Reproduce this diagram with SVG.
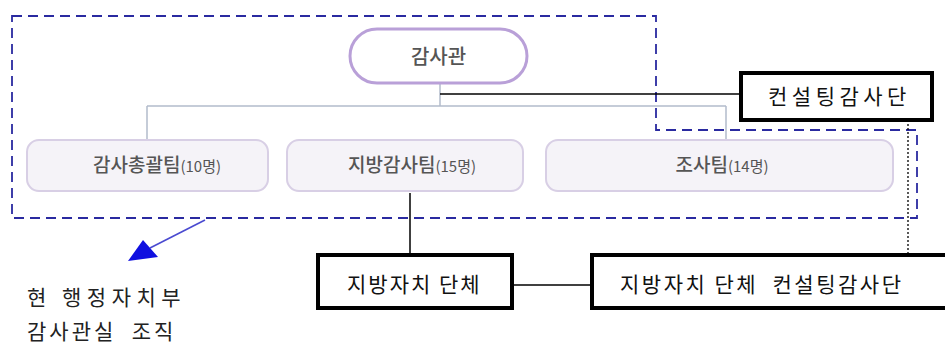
<svg xmlns="http://www.w3.org/2000/svg" width="945" height="344" viewBox="0 0 945 344">
<defs>
<style>
.kr{font-family:"Noto Sans CJK KR","Noto Sans",sans-serif;}
.team{fill:#f5f3f8;stroke:#d8cfe5;stroke-width:2;}
.tt{font-size:19px;fill:#555;font-weight:500;}
.ts{font-size:15px;fill:#555;}
.bx{fill:#fff;stroke:#000;stroke-width:4;}
.bt{font-size:21px;fill:#111;}
.gl{stroke:#b3bccb;stroke-width:1.5;fill:none;}
.bl{stroke:#000;stroke-width:1.5;fill:none;}
</style>
</defs>
<rect width="945" height="344" fill="#fff"/>
<g id="scope">
<path d="M12,16 H656 V130 H917 V218 H12 Z" fill="none" stroke="#2a2aa0" stroke-width="1.8" stroke-dasharray="10,6"/>
</g>
<g id="connectors">
<path class="gl" d="M440,83 V106 M147,106 H726 M147,106 V140 M726,106 V140"/>
<path class="bl" d="M440,94 H740"/>
<path class="bl" d="M410,193 V253"/>
<path class="bl" d="M513,285 H590"/>
<path d="M908,124 V253" stroke="#000" stroke-width="1.3" stroke-dasharray="2,2" fill="none"/>
<line x1="205" y1="220" x2="150" y2="248" stroke="#4a4ad0" stroke-width="1.6"/>
<polygon points="128,261 143,240 158,257" fill="#1010e0"/>
</g>
<g id="n-gamsagwan">
<rect x="350" y="29" width="177" height="54" rx="27" fill="#fff" stroke="#b9a0d8" stroke-width="3"/>
<text class="kr" x="438.5" y="64" font-size="20" fill="#555" font-weight="500" text-anchor="middle">감사관</text>
</g>
<g id="n-team1">
<rect class="team" x="27" y="140" width="241" height="51" rx="12"/>
<text class="kr" x="157" y="172" text-anchor="middle"><tspan class="tt">감사총괄팀</tspan><tspan class="ts">(10명)</tspan></text>
</g>
<g id="n-team2">
<rect class="team" x="287" y="140" width="236" height="51" rx="12"/>
<text class="kr" x="412" y="172" text-anchor="middle"><tspan class="tt">지방감사팀</tspan><tspan class="ts">(15명)</tspan></text>
</g>
<g id="n-team3">
<rect class="team" x="546" y="140" width="347" height="51" rx="12"/>
<text class="kr" x="722" y="172" text-anchor="middle"><tspan class="tt">조사팀</tspan><tspan class="ts">(14명)</tspan></text>
</g>
<g id="n-consult">
<rect class="bx" x="741" y="73" width="191" height="47"/>
<text class="kr bt" x="768" y="104" letter-spacing="4.5">컨설팅감사단</text>
</g>
<g id="n-local">
<rect class="bx" x="318" y="255" width="194" height="53"/>
<text class="kr bt" x="347" y="292" letter-spacing="2">지방자치 단체</text>
</g>
<g id="n-localconsult">
<rect class="bx" x="592" y="255" width="360" height="53"/>
<text class="kr bt" x="620" y="292" letter-spacing="2.5" xml:space="preserve">지방자치 단체  컨설팅감사단</text>
</g>
<g id="caption">
<text class="kr" x="27" y="305" font-size="21" fill="#222" letter-spacing="5.5">현 행정자치부</text>
<text class="kr" x="27" y="339" font-size="21" fill="#222" letter-spacing="3" xml:space="preserve">감사관실  조직</text>
</g>
</svg>
